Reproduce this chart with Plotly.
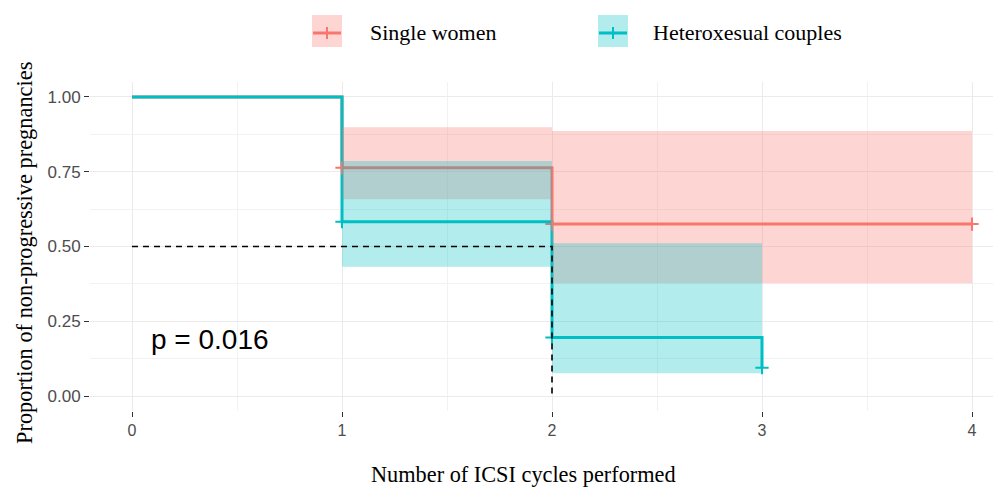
import plotly.graph_objects as go

# ---- data ----
groups = ["Single women", "Heteroxesual couples"]
colors = ["#F8766D", "#00BFC4"]
band_colors = ["rgba(248,118,109,0.3)", "rgba(0,191,196,0.3)"]

sw_time = [0, 1, 2, 4]
sw_surv = [1.0, 0.763, 0.575, 0.575]
sw_upper = [1.0, 0.899, 0.886, 0.886]
sw_lower = [1.0, 0.658, 0.377, 0.377]
sw_cens_time = [1, 2, 4]
sw_cens_surv = [0.763, 0.575, 0.575]

hc_time = [0, 1, 2, 3]
hc_surv = [1.0, 0.583, 0.196, 0.095]
hc_upper = [1.0, 0.786, 0.511, None]
hc_lower = [1.0, 0.432, 0.076, None]
hc_cens_time = [1, 2, 3]
hc_cens_surv = [0.583, 0.196, 0.095]

median_surv = 0.5
median_time = 2
p_text = "p = 0.016"
x_title = "Number of ICSI cycles performed"
y_title = "Proportion of non-progressive pregnancies"

x_ticks = [0, 1, 2, 3, 4]
y_ticks = [0.0, 0.25, 0.5, 0.75, 1.0]
y_tick_labels = ["0.00", "0.25", "0.50", "0.75", "1.00"]

series = [
    (sw_time, sw_surv, sw_upper, sw_lower, sw_cens_time, sw_cens_surv),
    (hc_time, hc_surv, hc_upper, hc_lower, hc_cens_time, hc_cens_surv),
]

SERIF = "Liberation Serif, Times New Roman, serif"
SANS = "Liberation Sans, Arial, sans-serif"


def band_polygon(t, up, lo):
    ux, uy, lx, ly = [], [], [], []
    for i in range(len(t) - 1):
        if up[i] is None:
            continue
        ux += [t[i], t[i + 1]]
        uy += [up[i], up[i]]
        lx += [t[i], t[i + 1]]
        ly += [lo[i], lo[i]]
    return ux + lx[::-1] + [ux[0]], uy + ly[::-1] + [uy[0]]


fig = go.Figure()

# lines and censor marks
for (t, s, up, lo, ct, cs), col in zip(series, colors):
    fig.add_trace(go.Scatter(x=t, y=s, mode="lines", line=dict(color=col, width=3, shape="hv"),
                             showlegend=False, hoverinfo="skip"))
for (t, s, up, lo, ct, cs), col in zip(series, colors):
    fig.add_trace(go.Scatter(x=ct, y=cs, mode="markers",
                             marker=dict(symbol="cross-thin", size=9.5, line=dict(color=col, width=2)),
                             showlegend=False, hoverinfo="skip"))

# confidence bands
for (t, s, up, lo, ct, cs), bc in zip(series, band_colors):
    bx, by = band_polygon(t, up, lo)
    fig.add_trace(go.Scatter(x=bx, y=by, mode="none", fill="toself", fillcolor=bc,
                             showlegend=False, hoverinfo="skip"))

# median lines
fig.add_trace(go.Scatter(x=[0, median_time, median_time], y=[median_surv, median_surv, 0],
                         mode="lines", line=dict(color="black", width=1.6, dash="6px,5px"),
                         showlegend=False, hoverinfo="skip"))

# page body has an 8px margin: work in figure pixels = screen pixels - 8
OFF = 8
W, H = 1001 - OFF, 488 - OFF
L, R, T = 90 - OFF, 0, 82 - OFF
B = H - (411 - OFF)
pw, ph = W - L - R, H - T - B


def px2paper(x, y):
    return (x - OFF - L) / pw, (H - B - (y - OFF)) / ph


# manual legend (positions in screen pixels)
shapes = []
annotations = []
leg_items = [(312, 368), (598, 651)]
for (sx, tx), col, bc, name in zip(leg_items, colors, band_colors, groups):
    x0, y0 = px2paper(sx, 47)
    x1, y1 = px2paper(sx + 30, 15)
    shapes.append(dict(type="rect", xref="paper", yref="paper", x0=x0, y0=y0, x1=x1, y1=y1,
                       fillcolor=bc, line=dict(width=0), layer="above"))
    lx0, ly = px2paper(sx + 1, 33)
    lx1, _ = px2paper(sx + 29, 33)
    shapes.append(dict(type="line", xref="paper", yref="paper", x0=lx0, y0=ly, x1=lx1, y1=ly,
                       line=dict(color=col, width=3), layer="above"))
    cx, cy0 = px2paper(sx + 15, 27)
    _, cy1 = px2paper(sx + 15, 39)
    shapes.append(dict(type="line", xref="paper", yref="paper", x0=cx, y0=cy0, x1=cx, y1=cy1,
                       line=dict(color=col, width=2), layer="above"))
    ax, ay = px2paper(tx, 33)
    annotations.append(dict(xref="paper", yref="paper", x=ax, y=ay, text=name, showarrow=False,
                            xanchor="left", yanchor="middle",
                            font=dict(family=SERIF, size=22, color="black")))

annotations.append(dict(x=0.08, y=0.19, xref="x", yref="y", text=p_text, showarrow=False,
                        xanchor="left", yanchor="middle",
                        font=dict(family=SANS, size=28, color="black")))

# axis titles
tx, ty = px2paper(523, 474)
annotations.append(dict(xref="paper", yref="paper", x=tx, y=ty, text=x_title, showarrow=False,
                        xanchor="center", yanchor="middle", borderpad=0,
                        font=dict(family=SERIF, size=22.3, color="black")))
tx, ty = px2paper(24, 253)
annotations.append(dict(xref="paper", yref="paper", x=tx, y=ty, text=y_title, showarrow=False,
                        xanchor="center", yanchor="middle", textangle=-90,
                        font=dict(family=SERIF, size=22.4, color="black")))

fig.update_layout(
    width=W, height=H,
    margin=dict(l=L, r=R, t=T, b=B, autoexpand=False),
    paper_bgcolor="white", plot_bgcolor="white",
    shapes=shapes, annotations=annotations,
    showlegend=False,
    xaxis=dict(range=[-0.2, (1001 - 90) / 210 - 0.2], tickvals=x_ticks, ticktext=[str(v) for v in x_ticks],
               showgrid=True, gridcolor="#EBEBEB", gridwidth=1.2, zeroline=False, showline=False,
               ticks="outside", ticklen=5, tickwidth=1.2, tickcolor="#333333",
               tickfont=dict(family=SANS, size=16, color="#4D4D4D"),
               minor=dict(dtick=0.5, tick0=0, showgrid=True, gridcolor="#F2F2F2", gridwidth=0.8, ticks="")),
    yaxis=dict(range=[-0.05, 1.05], tickvals=y_ticks, ticktext=y_tick_labels,
               showgrid=True, gridcolor="#EBEBEB", gridwidth=1.2, zeroline=False, showline=False,
               ticks="outside", ticklen=5, tickwidth=1.2, tickcolor="#333333",
               tickfont=dict(family=SANS, size=17, color="#4D4D4D"),
               minor=dict(dtick=0.125, tick0=0, showgrid=True, gridcolor="#F2F2F2", gridwidth=0.8, ticks="")),
)

fig.write_html("out.html")
